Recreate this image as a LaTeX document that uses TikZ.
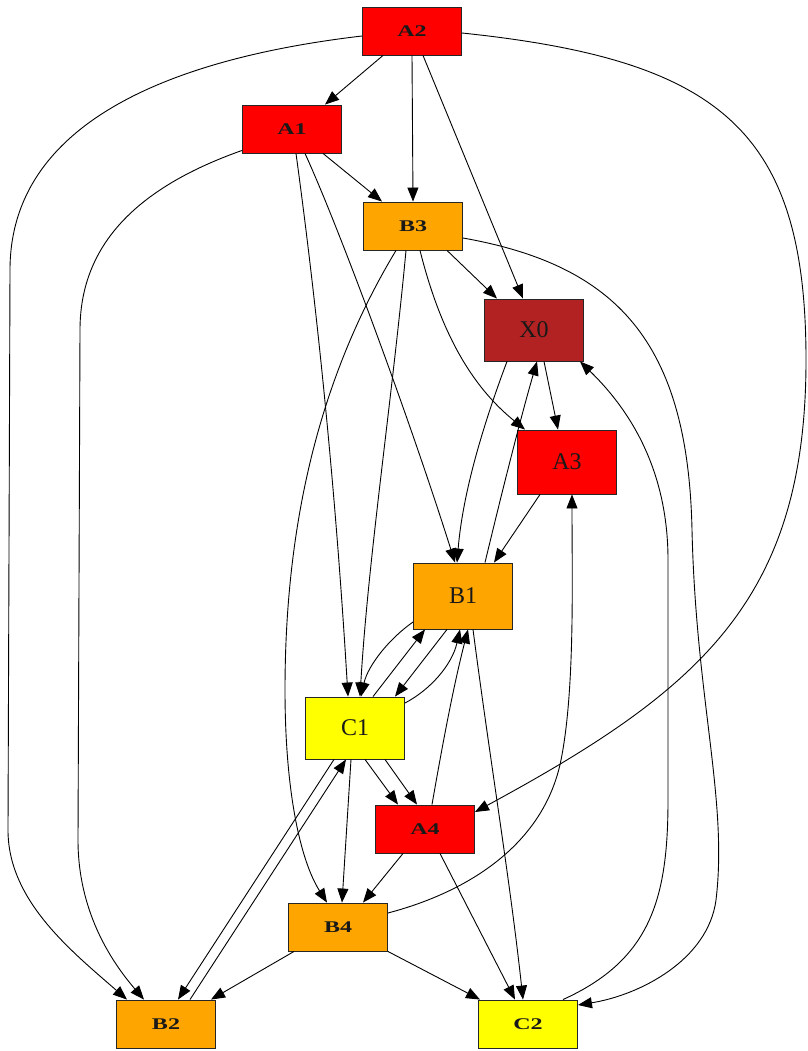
\documentclass[tikz,border=0pt]{standalone}
\usepackage{graphicx}
\usepackage{fontspec}
\setmainfont{Liberation Serif}
\usetikzlibrary{arrows.meta}
\definecolor{gvred}{HTML}{FF0000}
\definecolor{gvorange}{HTML}{FFA500}
\definecolor{gvyellow}{HTML}{FFFF00}
\definecolor{gvbrick}{HTML}{B22222}
\newcommand\squash[1]{\scalebox{1}[0.68]{\bfseries #1}}
\tikzset{
  box/.style={draw=black!85, line width=0.9pt, inner sep=0pt,
    minimum width=99pt, font=\fontsize{24}{24}\selectfont, text=black!90},
  flat/.style={box, minimum height=48pt},
  tall/.style={box, minimum height=64pt},
  link/.style={line width=0.9pt, -{Triangle[length=14pt,width=11pt]}}
}
\begin{document}
\begin{tikzpicture}[x=1pt,y=-1pt]
\fill[white] (0,0) rectangle (807,1051);
\useasboundingbox (0,0) rectangle (807,1051);

% nodes
\node[flat, fill=gvred]    (A2) at (412,31)   {\squash{A2}};
\node[flat, fill=gvred]    (A1) at (292,129)  {\squash{A1}};
\node[flat, fill=gvorange] (B3) at (413,226)  {\squash{B3}};
\node[tall, fill=gvbrick, minimum height=62pt] (X0) at (534,330) {X0};
\node[tall, fill=gvred]    (A3) at (567,462)  {A3};
\node[tall, fill=gvorange, minimum height=66pt] (B1) at (463,596) {B1};
\node[tall, fill=gvyellow, minimum height=62pt] (C1) at (355,728) {C1};
\node[flat, fill=gvred]    (A4) at (425,829)  {\squash{A4}};
\node[flat, fill=gvorange] (B4) at (338,927)  {\squash{B4}};
\node[flat, fill=gvorange] (B2) at (166,1024) {\squash{B2}};
\node[flat, fill=gvyellow] (C2) at (528,1024) {\squash{C2}};

% edges from A2
\draw[link] ([xshift=-29pt]A2.south) -- ([xshift=33pt]A1.north);
\draw[link] (A2.south) -- (B3.north);
\draw[link] ([xshift=11pt]A2.south) -- ([xshift=-11pt]X0.north);
\draw[link] ([yshift=-5pt]A2.west) .. controls (200,55) and (10,110) .. (10,270)
  -- (8,830) .. controls (8,900) and (70,950) .. ([xshift=-39pt]B2.north);
\draw[link] ([yshift=-2pt]A2.east) .. controls (720,60) and (806,130) .. (806,360)
  .. controls (806,600) and (700,690) .. ([yshift=17pt]A4.east);

% edges from A1
\draw[link] ([xshift=31pt]A1.south) -- ([xshift=-31pt]B3.north);
\draw[link] ([yshift=3pt]A1.south west) .. controls (130,190) and (80,250) .. (80,330)
  -- (78,840) .. controls (78,910) and (110,960) .. ([xshift=-22pt]B2.north);
\draw[link] ([xshift=4pt]A1.south) .. controls (316,300) and (335,480) .. ([xshift=-7pt]C1.north);
\draw[link] ([xshift=13pt]A1.south) .. controls (340,230) and (410,420) .. ([xshift=-8pt]B1.north);

% edges from B3
\draw[link] ([xshift=34pt]B3.south) -- ([xshift=-37pt]X0.north);
\draw[link] ([xshift=7pt]B3.south) .. controls (440,330) and (470,385) .. ([xshift=-42pt]A3.north);
\draw[link] ([xshift=-7pt]B3.south) .. controls (392,400) and (368,560) .. ([xshift=5pt]C1.north);
\draw[link] ([xshift=-17pt]B3.south) .. controls (330,360) and (285,500) .. (285,690)
  .. controls (285,790) and (300,860) .. ([xshift=-11pt]B4.north);
\draw[link] ([yshift=-12pt]B3.east) .. controls (615,265) and (688,340) .. (692,530)
  .. controls (696,700) and (728,800) .. (716,900)
  .. controls (708,960) and (640,995) .. ([yshift=19pt]C2.east);

% edges around X0, A3, B1
\draw[link] ([xshift=10pt]X0.south) -- ([xshift=-9pt]A3.north);
\draw[link] ([xshift=-27pt]X0.south) .. controls (485,420) and (463,490) .. ([xshift=-6pt]B1.north);
\draw[link] ([xshift=22pt]B1.north) .. controls (500,500) and (520,420) .. ([xshift=3pt]X0.south);
\draw[link] ([xshift=-27pt]A3.south) -- ([xshift=31pt]B1.north);

% edges between B1 and C1
\draw[link] ([yshift=-26pt]B1.west) .. controls (390,638) and (368,665) .. ([xshift=6pt]C1.north);
\draw[link] ([xshift=18pt]C1.north) -- ([xshift=-38pt]B1.south);
\draw[link] ([xshift=-16pt]B1.south) -- ([xshift=40pt]C1.north);
\draw[link] ([yshift=25pt]C1.east) .. controls (430,690) and (452,665) .. ([xshift=-3pt]B1.south);
\draw[link] ([xshift=7pt]A4.north) .. controls (445,730) and (455,680) .. ([xshift=5pt]B1.south);
\draw[link] ([xshift=10pt]B1.south) .. controls (490,760) and (510,880) .. ([xshift=-5pt]C2.north);

% edges from C1
\draw[link] ([xshift=10pt]C1.south) -- ([xshift=-27pt]A4.north);
\draw[link] ([xshift=30pt]C1.south) -- ([xshift=-8pt]A4.north);
\draw[link] ([xshift=-4pt]C1.south) -- ([xshift=4pt]B4.north);
\draw[link] ([xshift=-21pt]C1.south) -- ([xshift=12pt]B2.north);
\draw[link] ([xshift=24pt]B2.north) -- ([xshift=-9pt]C1.south);

% lower edges
\draw[link] ([xshift=-22pt]A4.south) -- ([xshift=25pt]B4.north);
\draw[link] ([xshift=15pt]A4.south) -- ([xshift=-13pt]C2.north);
\draw[link] ([xshift=-44pt]B4.south) -- ([xshift=45pt]B2.north);
\draw[link] (B4.south east) -- ([xshift=-48pt]C2.north);
\draw[link] ([yshift=14pt]B4.east) .. controls (475,890) and (545,840) .. (561,760)
  .. controls (575,690) and (572,580) .. ([xshift=5pt]A3.south);
\draw[link] ([xshift=35pt]C2.north) .. controls (650,960) and (668,900) .. (668,800)
  -- (668,560) .. controls (668,470) and (630,410) .. ([xshift=46pt]X0.south);
\end{tikzpicture}
\end{document}
